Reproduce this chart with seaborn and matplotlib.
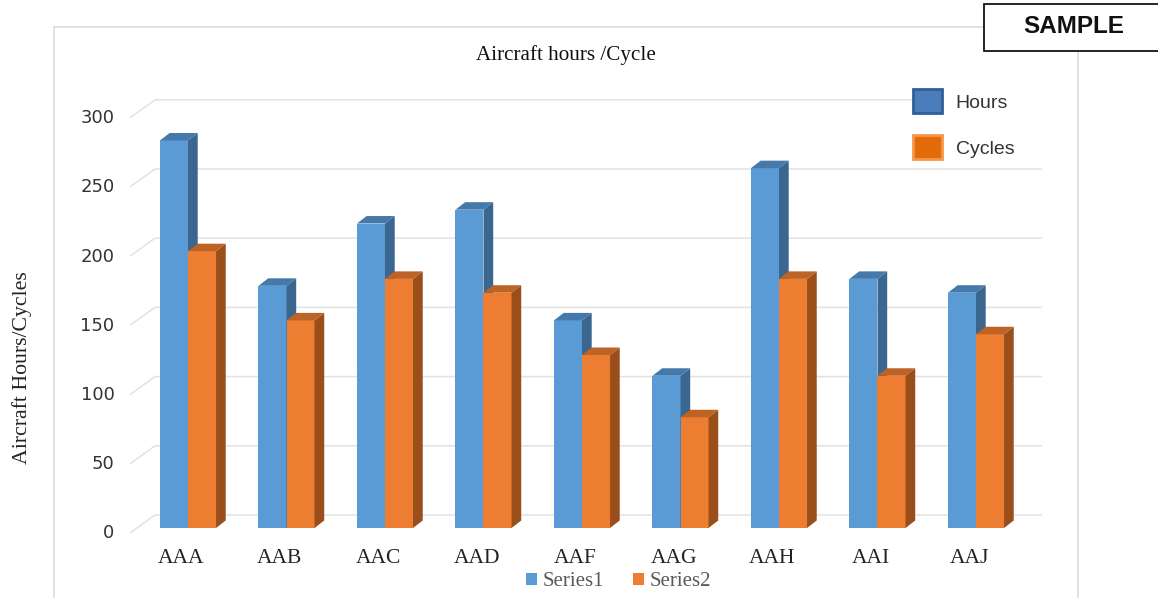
import matplotlib
matplotlib.use("Agg")
import matplotlib.pyplot as plt
import matplotlib.transforms as mtrans
from matplotlib.patches import Patch, Polygon, Rectangle
import numpy as np
import pandas as pd
import seaborn as sns

aircraft = ["AAA", "AAB", "AAC", "AAD", "AAF", "AAG", "AAH", "AAI", "AAJ"]
series1 = [280, 175, 220, 230, 150, 110, 260, 180, 170]
series2 = [200, 150, 180, 170, 125, 80, 180, 110, 140]
y_ticks = [0, 50, 100, 150, 200, 250, 300]

W, H = 1158, 598
SERIF = "Liberation Serif"
SANS = "Liberation Sans"

df = pd.DataFrame(
    {
        "aircraft": aircraft * 2,
        "value": series1 + series2,
        "series": ["Series1"] * len(aircraft) + ["Series2"] * len(aircraft),
    }
)

sns.set_theme(style="white")
fig = plt.figure(figsize=(W / 100, H / 100), dpi=100)
# the axes box is the chart frame, it runs off the bottom of the picture
ax = fig.add_axes([54 / W, 0, (1078 - 54) / W, (H - 27) / H])

sns.barplot(
    df,
    x="aircraft",
    y="value",
    hue="series",
    palette=["#5b9bd5", "#ed7d31"],
    saturation=1,
    width=0.569,
    gap=0,
    linewidth=0,
    ax=ax,
)

px_x = 98.5  # pixels per category
px_y = 1.384  # pixels per unit
ax.set_xlim((54 - 188) / px_x, (1078 - 188) / px_x)
ax.set_ylim((528 - 598) / px_y, (528 - 27) / px_y)

# fake 3d sides and tops on every bar
dx = 9.7 / px_x
dy = 7.5 / px_y
shades = [("#3a6690", "#4679ab"), ("#9a4f1b", "#bd6326")]
for i, container in enumerate(ax.containers):
    side_c, top_c = shades[i]
    for bar in container:
        bar.set_zorder(3 + i)
        x0, w, h = bar.get_x(), bar.get_width(), bar.get_height()
        x1 = x0 + w
        ax.add_patch(
            Polygon(
                [(x1, 0), (x1 + dx, dy), (x1 + dx, h + dy), (x1, h)],
                fc=side_c, ec="none", zorder=3 + i,
            )
        )
        ax.add_patch(
            Polygon(
                [(x0, h), (x0 + dx, h + dy), (x1 + dx, h + dy), (x1, h)],
                fc=top_c, ec="none", zorder=3 + i,
            )
        )

# gridlines on the back wall with the slanted stub on the side wall
wall_left = (130 - 188) / px_x
wall_back = (155 - 188) / px_x
wall_right = (1042 - 188) / px_x
legend_left = (912 - 188) / px_x
for t in y_ticks:
    end = legend_left if t == y_ticks[-1] else wall_right
    ax.plot(
        [wall_left, wall_back, end],
        [t - 3.6, t + 9.4, t + 9.4],
        color="#e2e2e2", lw=1.1, zorder=1, solid_capstyle="butt",
    )

ax.set_yticks(y_ticks)
ax.tick_params(axis="y", length=0, pad=-43.5, labelsize=13, labelcolor="#333333")
offset = mtrans.ScaledTranslation(0, -3.5 / 100, fig.dpi_scale_trans)
for lab in ax.get_yticklabels():
    lab.set_fontfamily("DejaVu Sans")
    lab.set_transform(lab.get_transform() + offset)

ax.set_xticks(np.arange(len(aircraft)) - 0.07, aircraft)
ax.tick_params(axis="x", length=0, pad=-35, labelsize=15.5, labelcolor="#222222")
for lab in ax.get_xticklabels():
    lab.set_fontfamily(SERIF)

ax.set_xlabel("")
ax.set_ylabel("Aircraft Hours/Cycles", family=SERIF, fontsize=15.7, color="#222222")
ax.yaxis.set_label_coords((32 - 54) / 1024, (598 - 368) / 571)
ax.set_title(
    "Aircraft hours /Cycle", family=SERIF, fontsize=15.2, color="#111111",
    y=(598 - 60) / 571, pad=0,
)

for name, spine in ax.spines.items():
    spine.set_color("#d9d9d9")
    spine.set_linewidth(1.1)
ax.spines["bottom"].set_visible(False)

# bottom legend comes from the bars themselves
handles, labels = ax.get_legend_handles_labels()
bottom_leg = ax.legend(
    handles, labels,
    loc="center left", bbox_to_anchor=((526 - 54) / 1024, (598 - 582) / 571),
    ncol=2, frameon=False, borderpad=0, borderaxespad=0,
    prop={"family": SERIF, "size": 15},
    handlelength=0.55, handleheight=0.55, handletextpad=0.27, columnspacing=1.35,
    labelcolor="#595959",
)
ax.add_artist(bottom_leg)

top_handles = [
    Patch(fc="#4a7ebb", ec="#2f5f96", lw=2),
    Patch(fc="#e36c0a", ec="#f79646", lw=2),
]
ax.legend(
    top_handles, ["Hours", "Cycles"],
    loc="upper left", bbox_to_anchor=((913.4 - 54) / 1024, (598 - 89.4) / 571),
    frameon=False, borderpad=0, borderaxespad=0,
    prop={"family": SANS, "size": 14},
    handlelength=1.45, handleheight=1.52, handletextpad=0.72, labelspacing=1.12,
    labelcolor="#333333",
)

# SAMPLE stamp, runs off the right side
fig.add_artist(
    Rectangle(
        (984 / W, (H - 51) / H), (W + 10 - 984) / W, 47 / H,
        transform=fig.transFigure, fc="white", ec="black", lw=1.2, zorder=5,
    )
)
fig.text(
    1074 / W, (H - 26.5) / H, "SAMPLE", family=SANS, weight="bold", fontsize=17.5,
    color="#111111", ha="center", va="center", zorder=6,
)

fig.savefig("out.png", dpi=100)
